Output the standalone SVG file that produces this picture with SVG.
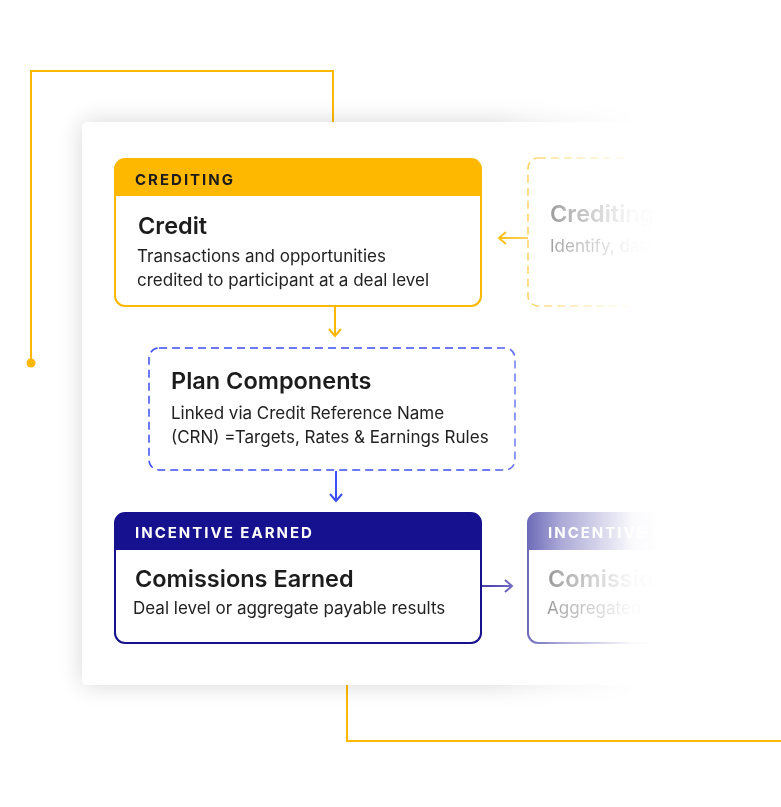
<svg xmlns="http://www.w3.org/2000/svg" width="781" height="807" viewBox="0 0 781 807">
<style>
.t{font-family:Inter,"Noto Sans","Liberation Sans",sans-serif;}
.hd{font-size:15px;font-weight:700;letter-spacing:2px;}
.ti{font-size:23.5px;font-weight:600;fill:#1c1c1c;}
.bd{font-size:17px;font-weight:400;fill:#222;}
.yl{fill:none;stroke:#FFB800;stroke-width:2;}
</style>
<defs>
<filter id="sh" x="-20%" y="-20%" width="140%" height="140%">
<feGaussianBlur stdDeviation="12"/>
</filter>
<linearGradient id="fg" gradientUnits="userSpaceOnUse" x1="480" y1="0" x2="660" y2="0">
<stop offset="0" stop-color="#fff" stop-opacity="1"/>
<stop offset="0.06" stop-color="#fff" stop-opacity="1"/>
<stop offset="0.28" stop-color="#fff" stop-opacity="0.6"/>
<stop offset="0.45" stop-color="#fff" stop-opacity="0.36"/>
<stop offset="0.85" stop-color="#fff" stop-opacity="0.02"/>
<stop offset="1" stop-color="#fff" stop-opacity="0"/>
</linearGradient>
<mask id="fade" maskUnits="userSpaceOnUse" x="0" y="0" width="781" height="807">
<rect x="0" y="0" width="781" height="807" fill="url(#fg)"/>
</mask>
<marker id="ay" viewBox="0 0 14 14" refX="12" refY="7" markerWidth="14" markerHeight="14" markerUnits="userSpaceOnUse" orient="auto">
<path d="M5,1 L12,7 L5,13" fill="none" stroke="#FFB800" stroke-width="2"/>
</marker>
<marker id="ab" viewBox="0 0 14 14" refX="12" refY="7" markerWidth="14" markerHeight="14" markerUnits="userSpaceOnUse" orient="auto">
<path d="M5,1 L12,7 L5,13" fill="none" stroke="#3D4EF2" stroke-width="2"/>
</marker>
<marker id="ap" viewBox="0 0 14 14" refX="12" refY="7" markerWidth="14" markerHeight="14" markerUnits="userSpaceOnUse" orient="auto">
<path d="M5,1 L12,7 L5,13" fill="none" stroke="#4F45B3" stroke-width="2"/>
</marker>
<clipPath id="c1"><rect x="115" y="159" width="366" height="147" rx="10"/></clipPath>
<clipPath id="c2"><rect x="115" y="513" width="366" height="130" rx="10"/></clipPath>
<clipPath id="c3"><rect x="528" y="513" width="240" height="130" rx="10"/></clipPath>
</defs>

<rect width="781" height="807" fill="#fff"/>

<g id="frame-lines">
<polyline class="yl" points="31,363 31,71 333,71 333,130"/>
<circle cx="31" cy="363" r="4.5" fill="#FFB800"/>
<polyline class="yl" points="347,680 347,741 781,741"/>
</g>

<g id="panel" mask="url(#fade)">
<rect x="82" y="122" width="640" height="563" rx="5" fill="#000" opacity="0.16" filter="url(#sh)"/>
<rect x="82" y="122" width="640" height="563" rx="5" fill="#fff"/>

<g id="connectors">
<line x1="335" y1="307" x2="335" y2="336" stroke="#FFB800" stroke-width="2" marker-end="url(#ay)"/>
<line x1="336" y1="471" x2="336" y2="501" stroke="#3D4EF2" stroke-width="2" marker-end="url(#ab)"/>
<line x1="482" y1="586" x2="512" y2="586" stroke="#4F45B3" stroke-width="2" marker-end="url(#ap)"/>
<line x1="528" y1="238" x2="499" y2="238" stroke="#FFB800" stroke-width="2" marker-end="url(#ay)"/>
</g>

<g id="credit">
<g clip-path="url(#c1)">
<rect x="115" y="159" width="366" height="147" fill="#fff"/>
<rect x="115" y="159" width="366" height="37" fill="#FFB800"/>
</g>
<rect x="115" y="159" width="366" height="147" rx="10" fill="none" stroke="#FFB800" stroke-width="2"/>
<text class="t hd" x="135" y="185" fill="#1c1c1c">CREDITING</text>
<text class="t ti" x="138" y="234">Credit</text>
<text class="t bd" x="137" y="262">Transactions and opportunities</text>
<text class="t bd" x="137" y="286">credited to participant at a deal level</text>
</g>

<g id="plan-components">
<rect x="149" y="348" width="366" height="122" rx="10" fill="#fff" stroke="#3D4EF2" stroke-width="1.5" stroke-dasharray="8,5"/>
<text class="t ti" x="171" y="389">Plan Components</text>
<text class="t bd" x="171" y="419">Linked via Credit Reference Name</text>
<text class="t bd" x="171" y="443">(CRN) =Targets, Rates &amp; Earnings Rules</text>
</g>

<g id="incentive-earned">
<g clip-path="url(#c2)">
<rect x="115" y="513" width="366" height="130" fill="#fff"/>
<rect x="115" y="513" width="366" height="37" fill="#16118F"/>
</g>
<rect x="115" y="513" width="366" height="130" rx="10" fill="none" stroke="#16118F" stroke-width="2"/>
<text class="t hd" x="135" y="538" fill="#fff">INCENTIVE EARNED</text>
<text class="t ti" x="135" y="587">Comissions Earned</text>
<text class="t bd" x="133" y="614">Deal level or aggregate payable results</text>
</g>

<g id="crediting-faded">
<rect x="528" y="158" width="240" height="148" rx="10" fill="#fff" stroke="#FFB800" stroke-width="1.5" stroke-dasharray="8,5"/>
<text class="t ti" x="550" y="222">Crediting</text>
<text class="t bd" x="550" y="252">Identify, data</text>
</g>

<g id="incentive-faded">
<g clip-path="url(#c3)">
<rect x="528" y="513" width="240" height="130" fill="#fff"/>
<rect x="528" y="513" width="240" height="37" fill="#16118F"/>
</g>
<rect x="528" y="513" width="240" height="130" rx="10" fill="none" stroke="#16118F" stroke-width="2"/>
<text class="t hd" x="548" y="538" fill="#fff">INCENTIVE EARNED</text>
<text class="t ti" x="548" y="587">Comissions</text>
<text class="t bd" x="547" y="614">Aggregated</text>
</g>
</g>
</svg>
